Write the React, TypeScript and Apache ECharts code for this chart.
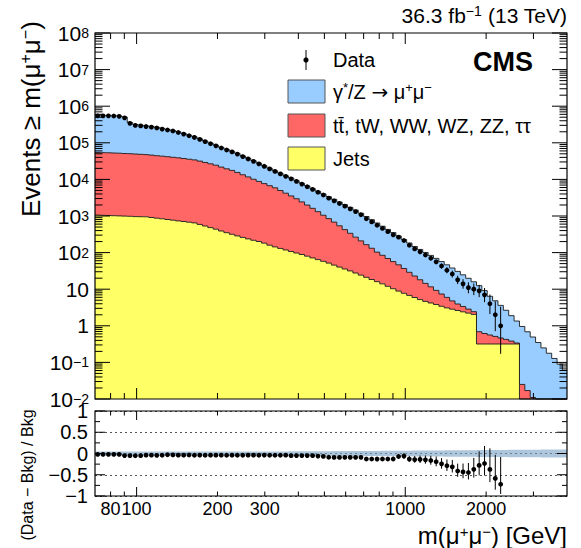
import React, { useEffect, useRef } from 'react';
import * as echarts from 'echarts';

const FONT = '"Liberation Sans", Arial, Helvetica, sans-serif';

const X_MIN = 70;
const X_MAX = 4000;
const Y_MIN = 0.01;
const Y_MAX = 1e8;
const LOG_BIN_WIDTH = 0.02;
const N_BINS = 88;
const binEdges: number[] = Array.from({ length: N_BINS + 1 }, (_, k) => X_MIN * Math.pow(10, LOG_BIN_WIDTH * k));

// cumulative events >= m, per background component
const jets = [
  1060, 1045, 1032, 1019, 1006, 994, 981, 963, 957, 951,
  910, 871, 839, 803, 768, 735, 708, 677, 648, 589,
  533, 482, 436, 389, 350, 316, 286, 260, 237, 217,
  201, 181, 159, 143, 130, 118, 107, 97.5, 88.7, 79.8,
  71.6, 64.4, 57.8, 51.6, 45.5, 40.2, 35.6, 31.6, 27.7, 24.2,
  21.1, 18.4, 16.1, 14.0, 12.0, 10.3, 8.87, 7.73, 6.77, 5.93,
  5.2, 4.64, 4.2, 3.82, 3.41, 3.08, 2.84, 2.62, 2.41, 2.22,
  2.05, 0.318, 0.318, 0.318, 0.318, 0.318, 0.318, 0.318, 0.318, 0,
  0, 0, 0, 0, 0, 0, 0, 0,
];
const topEW = [
  53200, 52700, 52300, 51600, 51000, 50000, 49400, 48400, 47500, 46600,
  45200, 43500, 42300, 40900, 39400, 38200, 36500, 34900, 33500, 31000,
  28500, 26200, 24000, 21300, 19150, 17300, 15200, 13140, 11460, 9880,
  8610, 7490, 6570, 5750, 4840, 4080, 3430, 2870, 2340, 1910,
  1550, 1250, 990, 797, 636, 500, 389, 305, 237, 185,
  144, 113, 87, 70.4, 57, 46.5, 37.5, 29.1, 22.2, 17.0,
  12.9, 9.76, 7.4, 5.45, 3.98, 2.89, 1.95, 1.32, 0.96, 0.64,
  0.38, 0.372, 0.298, 0.243, 0.195, 0.146, 0.107, 0.064, 0.021, 0.025,
  0.017, 0.011, 0, 0, 0, 0, 0, 0,
];
const dyMuMu = [
  503000, 503000, 504000, 497000, 488000, 456000, 309000, 265000, 257000, 242000,
  233000, 221000, 204000, 189000, 177000, 160000, 143000, 126000, 112000, 97400,
  83000, 71300, 61600, 53300, 46900, 41000, 35800, 30500, 26000, 22400,
  18900, 16000, 13400, 11300, 9730, 8400, 7360, 6300, 5390, 4650,
  3990, 3420, 2970, 2520, 2180, 1870, 1615, 1383, 1185, 981,
  804, 661, 541, 442, 361, 295, 238, 191, 154, 124,
  104, 86.6, 72.2, 60.2, 49.4, 40.4, 33.1, 26.7, 21.3, 17.0,
  13.5, 11.8, 8.54, 5.84, 4.31, 3.15, 2.23, 1.51, 1.01, 0.935,
  0.669, 0.483, 0.35, 0.249, 0.178, 0.128, 0.0893, 0.062,
];
const dataCounts = [
  546000, 546000, 546000, 539000, 529000, 482000, 341000, 298000, 290000, 278000,
  268000, 254000, 237000, 224000, 210000, 191000, 173000, 156000, 140000, 124000,
  107500, 94100, 82600, 72000, 63700, 56300, 49200, 42100, 36200, 31200,
  26600, 22800, 19300, 16500, 14100, 12100, 10350, 8810, 7430, 6310,
  5330, 4450, 3740, 3070, 2600, 2190, 1856, 1565, 1320, 1083,
  843, 689, 560, 458, 374, 306, 264, 214, 159, 126,
  105, 86, 70, 56, 43, 33, 26, 18, 14, 11,
  10, 9, 7, 4, 2, 1,
];
// relative background uncertainty (ratio band half-width)
const sysUnc = [
  0.05, 0.05, 0.05, 0.05, 0.05, 0.05, 0.05, 0.05, 0.05, 0.05,
  0.05, 0.05, 0.05, 0.05, 0.05, 0.05, 0.05, 0.05, 0.05, 0.05,
  0.05, 0.05, 0.05, 0.05, 0.05, 0.05, 0.05, 0.05, 0.05, 0.05,
  0.05, 0.05, 0.05, 0.05, 0.05, 0.05, 0.052, 0.052, 0.052, 0.052,
  0.054, 0.054, 0.054, 0.054, 0.056, 0.056, 0.056, 0.058, 0.058, 0.058,
  0.06, 0.06, 0.06, 0.062, 0.062, 0.064, 0.064, 0.066, 0.066, 0.068,
  0.068, 0.07, 0.07, 0.072, 0.072, 0.074, 0.074, 0.076, 0.076, 0.078,
  0.078, 0.08, 0.08, 0.082, 0.082, 0.084, 0.084, 0.086, 0.086, 0.088,
  0.088, 0.09, 0.09, 0.092, 0.092, 0.094, 0.094, 0.096,
];

const xMajorTicks = [100, 1000];
const xMinorTicks = [80, 90, 200, 300, 400, 500, 600, 700, 800, 900, 2000, 3000];
const xTickLabels = [80, 100, 200, 300, 1000, 2000];
const yMainExponents = [-2, -1, 0, 1, 2, 3, 4, 5, 6, 7, 8];
const yMinorMult = [2, 3, 4, 5, 6, 7, 8, 9];
const ratioMajor = [-1, -0.5, 0, 0.5, 1];
const ratioMinor = [-0.75, -0.25, 0.25, 0.75];

const C_DY = '#99ccff';
const C_TOP = '#ff6666';
const C_JETS = '#ffff66';

const lvlJets = jets.slice();
const lvlTop = jets.map((v, k) => v + topEW[k]);
const lvlAll = lvlTop.map((v, k) => v + dyMuMu[k]);
const bottomLvl = jets.map(() => Y_MIN);
const binCenter = (k: number) => Math.sqrt(binEdges[k] * binEdges[k + 1]);

const poisUp = (n: number) => n + Math.sqrt(n + 0.75) + 1;
const poisLo = (n: number) => n * Math.pow(1 - 1 / (9 * n) - 1 / (3 * Math.sqrt(n)), 3);

const mainData = dataCounts.map((n, k) => [binCenter(k), n, poisLo(n), poisUp(n)]);
const ratioData = dataCounts.map((n, k) => {
  const b = lvlAll[k];
  return [binCenter(k), n / b - 1, poisLo(n) / b - 1, poisUp(n) / b - 1];
});

const clampY = (v: number) => Math.min(Math.max(v, Y_MIN), Y_MAX);
const clampX = (x: number) => Math.min(Math.max(x, X_MIN), X_MAX);

function stairPoints(api: any, lower: number[], upper: number[], yClamp: (v: number) => number) {
  const pts: number[][] = [];
  const px = (x: number) => api.coord([clampX(x), 1])[0];
  const py = (v: number) => api.coord([X_MIN * 2, yClamp(v)])[1];
  for (let k = 0; k < N_BINS; k++) {
    const y = py(upper[k]);
    pts.push([px(binEdges[k]), y], [px(binEdges[k + 1]), y]);
  }
  for (let k = N_BINS - 1; k >= 0; k--) {
    const y = py(lower[k]);
    pts.push([px(binEdges[k + 1]), y], [px(binEdges[k]), y]);
  }
  return pts;
}
function stairLine(api: any, upper: number[]) {
  const pts: number[][] = [];
  const px = (x: number) => api.coord([clampX(x), 1])[0];
  const py = (v: number) => api.coord([X_MIN * 2, clampY(v)])[1];
  for (let k = 0; k < N_BINS; k++) {
    const y = py(upper[k]);
    pts.push([px(binEdges[k]), y], [px(binEdges[k + 1]), y]);
  }
  return pts;
}

const histSeries = (lower: number[], upper: number[], color: string) => ({
  type: 'custom',
  xAxisIndex: 0,
  yAxisIndex: 0,
  silent: true,
  z: 2,
  data: [[X_MIN * 2, 1]],
  renderItem: (_p: any, api: any) => ({
    type: 'group',
    children: [
      { type: 'polygon', shape: { points: stairPoints(api, lower, upper, clampY) }, style: { fill: color, stroke: 'none' } },
      { type: 'polyline', shape: { points: stairLine(api, upper) }, style: { stroke: '#1a1a1a', lineWidth: 0.9, fill: 'none' } },
    ],
  }),
});

const supRich = (base: number, sup: number) => ({
  b: { fontSize: base, fontFamily: FONT, fill: '#000', color: '#000', lineHeight: base - 7 },
  s: { fontSize: sup, fontFamily: FONT, fill: '#000', color: '#000', lineHeight: sup - 6, verticalAlign: 'top' },
});

const line = (x1: number, y1: number, x2: number, y2: number) => ({
  type: 'line',
  shape: { x1, y1, x2, y2 },
  style: { stroke: '#000', lineWidth: 1 },
});

const mainFrame = {
  type: 'custom',
  xAxisIndex: 0,
  yAxisIndex: 0,
  silent: true,
  z: 10,
  data: [[X_MIN * 2, 1]],
  renderItem: (_p: any, api: any) => {
    const bl = api.coord([X_MIN, Y_MIN]);
    const tr = api.coord([X_MAX, Y_MAX]);
    const [left, bottom] = bl;
    const [right, top] = tr;
    const ch: any[] = [];
    ch.push({ type: 'rect', shape: { x: left, y: top, width: right - left, height: bottom - top }, style: { fill: 'none', stroke: '#000', lineWidth: 1.2 } });
    xMajorTicks.forEach((v) => {
      const x = api.coord([v, 1])[0];
      ch.push(line(x, bottom, x, bottom - 11), line(x, top, x, top + 11));
    });
    xMinorTicks.forEach((v) => {
      const x = api.coord([v, 1])[0];
      ch.push(line(x, bottom, x, bottom - 6), line(x, top, x, top + 6));
    });
    yMainExponents.forEach((e) => {
      const y = api.coord([X_MIN * 2, Math.pow(10, e)])[1];
      ch.push(line(left, y, left + 15, y), line(right, y, right - 15, y));
      const txt = e === 0 ? '{b|1}' : e === 1 ? '{b|10}' : `{b|10}{s|${e < 0 ? '\u2212' + -e : e}}`;
      ch.push({
        type: 'text',
        x: left - 6,
        y,
        style: { text: txt, rich: supRich(21, 14), align: 'right', verticalAlign: 'middle', fontFamily: FONT, fontSize: 21 },
      });
      if (e < 8) {
        yMinorMult.forEach((m) => {
          const ym = api.coord([X_MIN * 2, m * Math.pow(10, e)])[1];
          ch.push(line(left, ym, left + 7.5, ym), line(right, ym, right - 7.5, ym));
        });
      }
    });
    return { type: 'group', children: ch };
  },
};

const ratioFrame = {
  type: 'custom',
  xAxisIndex: 1,
  yAxisIndex: 1,
  silent: true,
  z: 10,
  data: [[X_MIN * 2, 0]],
  renderItem: (_p: any, api: any) => {
    const [left, bottom] = api.coord([X_MIN, -1]);
    const [right, top] = api.coord([X_MAX, 1]);
    const ch: any[] = [];
    ch.push({ type: 'rect', shape: { x: left, y: top, width: right - left, height: bottom - top }, style: { fill: 'none', stroke: '#000', lineWidth: 1.2 } });
    xMajorTicks.forEach((v) => {
      const x = api.coord([v, 0])[0];
      ch.push(line(x, bottom, x, bottom - 9), line(x, top, x, top + 9));
    });
    xMinorTicks.forEach((v) => {
      const x = api.coord([v, 0])[0];
      ch.push(line(x, bottom, x, bottom - 4.5), line(x, top, x, top + 4.5));
    });
    xTickLabels.forEach((v) => {
      const x = api.coord([v, 0])[0];
      ch.push({
        type: 'text',
        x,
        y: bottom + 4,
        style: { text: String(v), fill: '#000', fontSize: 18, lineHeight: 17, fontFamily: FONT, align: 'center', verticalAlign: 'top' },
      });
    });
    ratioMajor.forEach((v) => {
      const y = api.coord([X_MIN * 2, v])[1];
      ch.push(line(left, y, left + 10, y), line(right, y, right - 10, y));
    });
    ratioMinor.forEach((v) => {
      const y = api.coord([X_MIN * 2, v])[1];
      ch.push(line(left, y, left + 5, y), line(right, y, right - 5, y));
    });
    return { type: 'group', children: ch };
  },
};

const bandSeries = {
  type: 'custom',
  xAxisIndex: 1,
  yAxisIndex: 1,
  silent: true,
  z: 1,
  data: [[X_MIN * 2, 0]],
  renderItem: (_p: any, api: any) => ({
    type: 'polygon',
    shape: {
      points: stairPoints(api, sysUnc.map((u) => -u), sysUnc.map((u) => u), (v) => v),
    },
    style: { fill: 'rgba(120,160,195,0.6)', stroke: 'none' },
  }),
};

const pointSeries = (xi: number, yi: number, rows: number[][], clampLo: (v: number) => number) => ({
  type: 'custom',
  xAxisIndex: xi,
  yAxisIndex: yi,
  silent: true,
  z: 5,
  data: rows,
  renderItem: (_p: any, api: any) => {
    const x = api.value(0);
    const c = api.coord([x, api.value(1)]);
    const lo = api.coord([x, clampLo(api.value(2))]);
    const hi = api.coord([x, api.value(3)]);
    return {
      type: 'group',
      children: [
        { type: 'line', shape: { x1: c[0], y1: lo[1], x2: c[0], y2: hi[1] }, style: { stroke: '#000', lineWidth: 1 } },
        { type: 'circle', shape: { cx: c[0], cy: c[1], r: 2.4 }, style: { fill: '#000' } },
      ],
    };
  },
});

const legendRich = {
  a: { fontSize: 20, fontFamily: FONT, fill: '#000', lineHeight: 22 },
  r: { fontSize: 20, fontFamily: '"DejaVu Sans", sans-serif', fill: '#000', lineHeight: 22 },
  s: { fontSize: 13, fontFamily: FONT, fill: '#000', lineHeight: 13, verticalAlign: 'top' },
};

const option: any = {
  animation: false,
  backgroundColor: '#fff',
  grid: [
    { left: 95, top: 33, width: 472, height: 366, show: false },
    { left: 95, top: 411, width: 472, height: 85, show: false },
  ],
  xAxis: [
    { type: 'log', gridIndex: 0, min: X_MIN, max: X_MAX, axisLine: { show: false }, axisTick: { show: false }, axisLabel: { show: false }, splitLine: { show: false } },
    { type: 'log', gridIndex: 1, min: X_MIN, max: X_MAX, axisLine: { show: false }, axisTick: { show: false }, axisLabel: { show: false }, splitLine: { show: false } },
  ],
  yAxis: [
    { type: 'log', gridIndex: 0, min: Y_MIN, max: Y_MAX, axisLine: { show: false }, axisTick: { show: false }, axisLabel: { show: false }, splitLine: { show: false } },
    {
      type: 'value',
      gridIndex: 1,
      min: -1,
      max: 1,
      interval: 0.5,
      axisLine: { show: false },
      axisTick: { show: false },
      axisLabel: {
        margin: 7,
        fontSize: 20,
        lineHeight: 10,
        fontFamily: FONT,
        color: '#000',
        formatter: (v: number) => (v < 0 ? '\u2212' + String(-v) : String(v)),
      },
      splitLine: { show: true, lineStyle: { type: [2, 3], color: '#555', width: 1 } },
    },
  ],
  series: [
    histSeries(lvlTop, lvlAll, C_DY),
    histSeries(lvlJets, lvlTop, C_TOP),
    histSeries(bottomLvl, lvlJets, C_JETS),
    pointSeries(0, 0, mainData, (v) => Math.max(v, Y_MIN)),
    bandSeries,
    pointSeries(1, 1, ratioData, (v) => v),
    mainFrame,
    ratioFrame,
  ],
  graphic: [
    {
      type: 'text',
      x: 567,
      y: 15,
      style: { text: '{a|36.3 fb}{s|\u22121}{a| (13 TeV)}', rich: { a: { fontSize: 21, fontFamily: FONT, fill: '#000', lineHeight: 23 }, s: { fontSize: 14, fontFamily: FONT, fill: '#000', lineHeight: 14, verticalAlign: 'top' } }, align: 'right', verticalAlign: 'middle' },
    },
    {
      type: 'text',
      x: 31,
      y: 217,
      rotation: Math.PI / 2,
      style: { text: '{a|Events \u2265 m(\u03bc}{s|+}{a|\u03bc}{s|\u2212}{a|)}', rich: { a: { fontSize: 26, fontFamily: FONT, fill: '#000', lineHeight: 28 }, s: { fontSize: 16, fontFamily: FONT, fill: '#000', lineHeight: 16, verticalAlign: 'top' } }, align: 'left', verticalAlign: 'middle' },
    },
    {
      type: 'text',
      x: 27,
      y: 475,
      rotation: Math.PI / 2,
      style: { text: '(Data \u2212 Bkg) / Bkg', fill: '#000', fontSize: 16, fontFamily: FONT, align: 'center', verticalAlign: 'middle' },
    },
    {
      type: 'text',
      x: 567,
      y: 535,
      style: { text: '{a|m(\u03bc}{s|+}{a|\u03bc}{s|\u2212}{a|) [GeV]}', rich: { a: { fontSize: 24, fontFamily: FONT, fill: '#000', lineHeight: 22 }, s: { fontSize: 15, fontFamily: FONT, fill: '#000', lineHeight: 14, verticalAlign: 'top' } }, align: 'right', verticalAlign: 'middle' },
    },
    // legend
    { type: 'line', shape: { x1: 306, y1: 50, x2: 306, y2: 70 }, style: { stroke: '#000', lineWidth: 1 } },
    { type: 'circle', shape: { cx: 306, cy: 60, r: 2.6 }, style: { fill: '#000' } },
    { type: 'text', x: 333, y: 60, style: { text: 'Data', fill: '#000', fontSize: 20, fontFamily: FONT, align: 'left', verticalAlign: 'middle' } },
    { type: 'rect', shape: { x: 288, y: 80, width: 37, height: 23 }, style: { fill: C_DY, stroke: '#555', lineWidth: 1 } },
    { type: 'text', x: 333, y: 92, style: { text: '{a|\u03b3}{s|*}{a|/Z }{r|\u2192}{a| \u03bc}{s|+}{a|\u03bc}{s|\u2212}', rich: legendRich, align: 'left', verticalAlign: 'middle' } },
    { type: 'rect', shape: { x: 288, y: 114, width: 37, height: 23 }, style: { fill: C_TOP, stroke: '#555', lineWidth: 1 } },
    { type: 'text', x: 333, y: 126, style: { text: 'tt\u0304, tW, WW, WZ, ZZ, \u03c4\u03c4', fill: '#000', fontSize: 20, fontFamily: FONT, align: 'left', verticalAlign: 'middle' } },
    { type: 'rect', shape: { x: 288, y: 147, width: 37, height: 23 }, style: { fill: C_JETS, stroke: '#555', lineWidth: 1 } },
    { type: 'text', x: 333, y: 159, style: { text: 'Jets', fill: '#000', fontSize: 20, fontFamily: FONT, align: 'left', verticalAlign: 'middle' } },
    { type: 'text', x: 533, y: 62, style: { text: 'CMS', fill: '#000', fontSize: 27, fontWeight: 'bold', fontFamily: FONT, align: 'right', verticalAlign: 'middle' } },
  ],
};

export default function App() {
  const ref = useRef<HTMLDivElement>(null);
  useEffect(() => {
    const chart = echarts.init(ref.current as HTMLDivElement, undefined, { renderer: 'svg' });
    chart.setOption(option);
    return () => chart.dispose();
  }, []);
  return <div ref={ref} style={{ position: 'fixed', left: 0, top: 0, width: 581, height: 548, background: '#fff' }} />;
}
